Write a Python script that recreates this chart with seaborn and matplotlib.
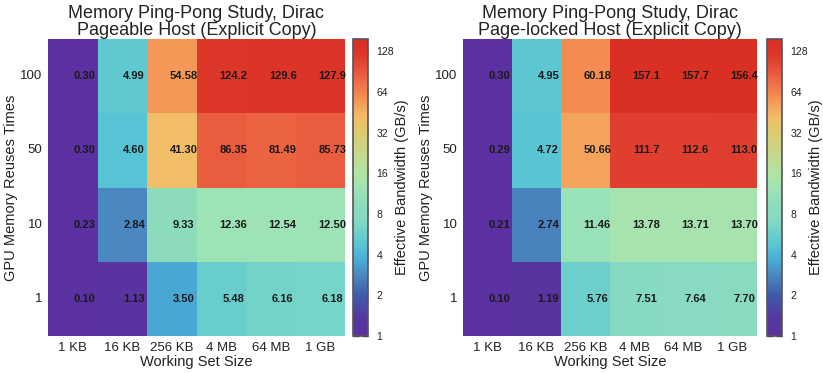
import numpy as np
import pandas as pd
import seaborn as sns
import matplotlib
matplotlib.use("Agg")
import matplotlib.pyplot as plt
from matplotlib.colors import LogNorm, LinearSegmentedColormap

# ---- data ----
sizes = ["1 KB", "16 KB", "256 KB", "4 MB", "64 MB", "1 GB"]
reuses = ["100", "50", "10", "1"]
pageable = [
    [0.30, 4.99, 54.58, 124.2, 129.6, 127.9],
    [0.30, 4.60, 41.30, 86.35, 81.49, 85.73],
    [0.23, 2.84, 9.33, 12.36, 12.54, 12.50],
    [0.10, 1.13, 3.50, 5.48, 6.16, 6.18],
]
pagelocked = [
    [0.30, 4.95, 60.18, 157.1, 157.7, 156.4],
    [0.29, 4.72, 50.66, 111.7, 112.6, 113.0],
    [0.21, 2.74, 11.46, 13.78, 13.71, 13.70],
    [0.10, 1.19, 5.76, 7.51, 7.64, 7.70],
]
titles = ["Memory Ping-Pong Study, Dirac\nPageable Host (Explicit Copy)",
          "Memory Ping-Pong Study, Dirac\nPage-locked Host (Explicit Copy)"]
cbar_ticks = [1, 2, 4, 8, 16, 32, 64, 128]

sns.set_theme(style="white")
plt.rcParams["font.family"] = ["Liberation Sans", "DejaVu Sans"]

cmap = LinearSegmentedColormap.from_list("pp", [
    (0.00, "#5b30a0"),
    (0.06, "#55389e"),
    (0.137, "#3f5cac"),
    (0.205, "#4b88c0"),
    (0.25, "#4aa8d4"),
    (0.30, "#55c3d5"),
    (0.318, "#60c8d0"),
    (0.346, "#6dcfcb"),
    (0.36, "#76d4c8"),
    (0.40, "#88dbc2"),
    (0.44, "#8cdcbc"),
    (0.50, "#9fe3b5"),
    (0.55, "#b2e4a2"),
    (0.685, "#dccb72"),
    (0.735, "#f2be68"),
    (0.79, "#f59a58"),
    (0.81, "#f48c50"),
    (0.875, "#eb6040"),
    (0.932, "#e04030"),
    (0.96, "#dc3428"),
    (1.00, "#da3024"),
])
norm = LogNorm(vmin=1, vmax=157.7)

W, H = 823, 373
fig = plt.figure(figsize=(W / 100, H / 100), dpi=100)

def fx(px):
    return px / W

def fy(top, bottom):
    return (H - bottom) / H, (bottom - top) / H

y0, hh = fy(39, 336)
layout = [((48, 345), (353, 368)), ((463, 757), (767, 782))]

for k, data in enumerate([pageable, pagelocked]):
    (ax0, ax1), (c0, c1) = layout[k]
    ax = fig.add_axes([fx(ax0), y0, fx(ax1 - ax0), hh])
    cax = fig.add_axes([fx(c0), y0, fx(c1 - c0), hh])
    df = pd.DataFrame(data, index=reuses, columns=sizes)
    labels = df.map(lambda v: f"{v:.1f}" if v >= 100 else f"{v:.2f}")
    sns.heatmap(df, ax=ax, cbar_ax=cax, cmap=cmap, norm=norm,
                annot=labels, fmt="",
                annot_kws={"color": "#1a1a1a", "fontsize": 8.0,
                           "fontweight": "bold"},
                cbar_kws={"ticks": cbar_ticks})
    for t in ax.texts:
        x, y = t.get_position()
        t.set_position((x + 0.24, y))
    ax.set_title(titles[k], fontsize=13, color="#222222", pad=3, linespacing=0.95)
    ax.set_xlabel("Working Set Size", fontsize=10.5, color="#222222", labelpad=1)
    ax.set_ylabel("GPU Memory Reuses Times", fontsize=10.5, color="#222222", labelpad=1.5)
    ax.tick_params(axis="both", length=0, labelsize=9.5, colors="#222222", pad=4)
    ax.set_yticklabels(reuses, rotation=0)
    ax.set_xticklabels(sizes, rotation=0)
    cax.set_yticks(cbar_ticks)
    cax.set_yticklabels([str(v) for v in cbar_ticks])
    cax.minorticks_off()
    cax.tick_params(axis="y", which="major", direction="in", left=True, right=True,
                    length=4, width=1, color="#333333", labelsize=7.5,
                    labelcolor="#222222", pad=6)
    cbar = ax.collections[0].colorbar
    cbar.outline.set_edgecolor("#555555")
    cbar.outline.set_linewidth(1.2)
    cbar.set_label("Effective Bandwidth (GB/s)", fontsize=10.5, color="#222222",
                   labelpad=1)

fig.savefig("out.png", dpi=100)
